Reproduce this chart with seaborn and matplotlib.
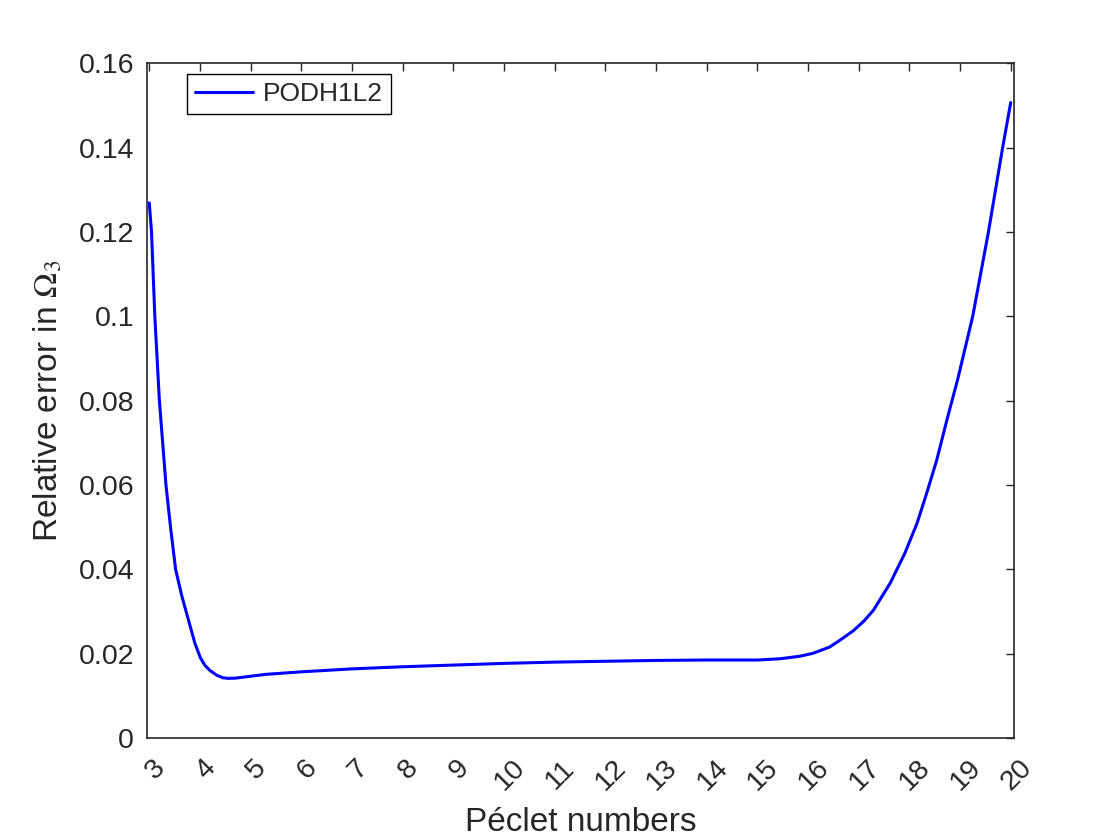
import numpy as np
import pandas as pd
import matplotlib
matplotlib.use("Agg")
import matplotlib.pyplot as plt
import matplotlib.transforms as mtransforms
from matplotlib.ticker import FormatStrFormatter
import seaborn as sns

# values
peclet = [3.0, 3.045, 3.11, 3.2, 3.33, 3.42, 3.52, 3.64, 3.81, 3.9, 4.01, 4.1,
          4.2, 4.33, 4.45, 4.56, 4.7, 4.9, 5.3, 6.0, 7.0, 8.0, 9.0, 10.0, 11.0,
          12.0, 13.0, 14.0, 15.0, 15.45, 15.84, 16.1, 16.43, 16.63, 16.89,
          17.1, 17.29, 17.62, 17.91, 18.15, 18.34, 18.54, 18.74, 18.95, 19.25,
          19.56, 19.84, 20.0]
rel_error = [0.1269, 0.12, 0.10, 0.08, 0.06, 0.05, 0.04, 0.0338, 0.0264, 0.0225,
             0.0190, 0.0172, 0.0160, 0.0149, 0.0143, 0.01415, 0.0142, 0.0145,
             0.0151, 0.0157, 0.0164, 0.0169, 0.0173, 0.0177, 0.0180, 0.0182,
             0.0184, 0.0185, 0.0185, 0.0188, 0.0194, 0.0201, 0.0216, 0.0232,
             0.0254, 0.0277, 0.0303, 0.0367, 0.0438, 0.0509, 0.0580, 0.0659,
             0.0754, 0.0849, 0.10, 0.12, 0.14, 0.1507]
x_ticks = list(range(3, 21))
y_ticks = [0, 0.02, 0.04, 0.06, 0.08, 0.1, 0.12, 0.14, 0.16]

df = pd.DataFrame({"Pe": peclet, "err": rel_error, "method": "PODH1L2"})

sns.set_style("white")
plt.rcParams["font.family"] = ["Liberation Sans", "DejaVu Sans"]
plt.rcParams["mathtext.fontset"] = "stix"

TXT = "#262626"

fig = plt.figure(figsize=(11.2, 8.4), dpi=100)
ax = fig.add_axes([0.131, 0.1214, 0.7746, 0.8032])

sns.lineplot(data=df, x="Pe", y="err", hue="method", palette=["#0000ff"],
             linewidth=2.2, ax=ax)

ax.set_xlim(2.95, 20.07)
ax.set_ylim(0, 0.16)
ax.set_xticks(x_ticks)
ax.set_yticks(y_ticks)
ax.yaxis.set_major_formatter(FormatStrFormatter("%g"))
ax.tick_params(direction="in", length=6, width=1, colors=TXT,
               labelsize=20.5, top=True, right=True, labeltop=False, labelright=False)
ax.tick_params(axis="y", pad=9)
ax.tick_params(axis="x", pad=10)
shift = mtransforms.ScaledTranslation(0.06, -0.03, fig.dpi_scale_trans)
for lab in ax.get_xticklabels():
    lab.set_rotation(45)
    lab.set_ha("center")
    lab.set_transform(lab.get_transform() + shift)

for sp in ax.spines.values():
    sp.set_color(TXT)
    sp.set_linewidth(1.2)

ax.set_xlabel("Péclet numbers", fontsize=24, color=TXT, labelpad=8)
ax.set_ylabel(r"Relative error in $\mathit{\Omega}_3$", fontsize=24, color=TXT, labelpad=10)

leg = ax.legend(loc="upper left", bbox_to_anchor=(0.047, 0.984), borderaxespad=0,
                fancybox=False, edgecolor="black", framealpha=1, fontsize=19,
                handlelength=2.2, handletextpad=0.35, borderpad=0.3)
leg.get_frame().set_linewidth(1.0)

fig.savefig("out.png", dpi=100, facecolor="white")
